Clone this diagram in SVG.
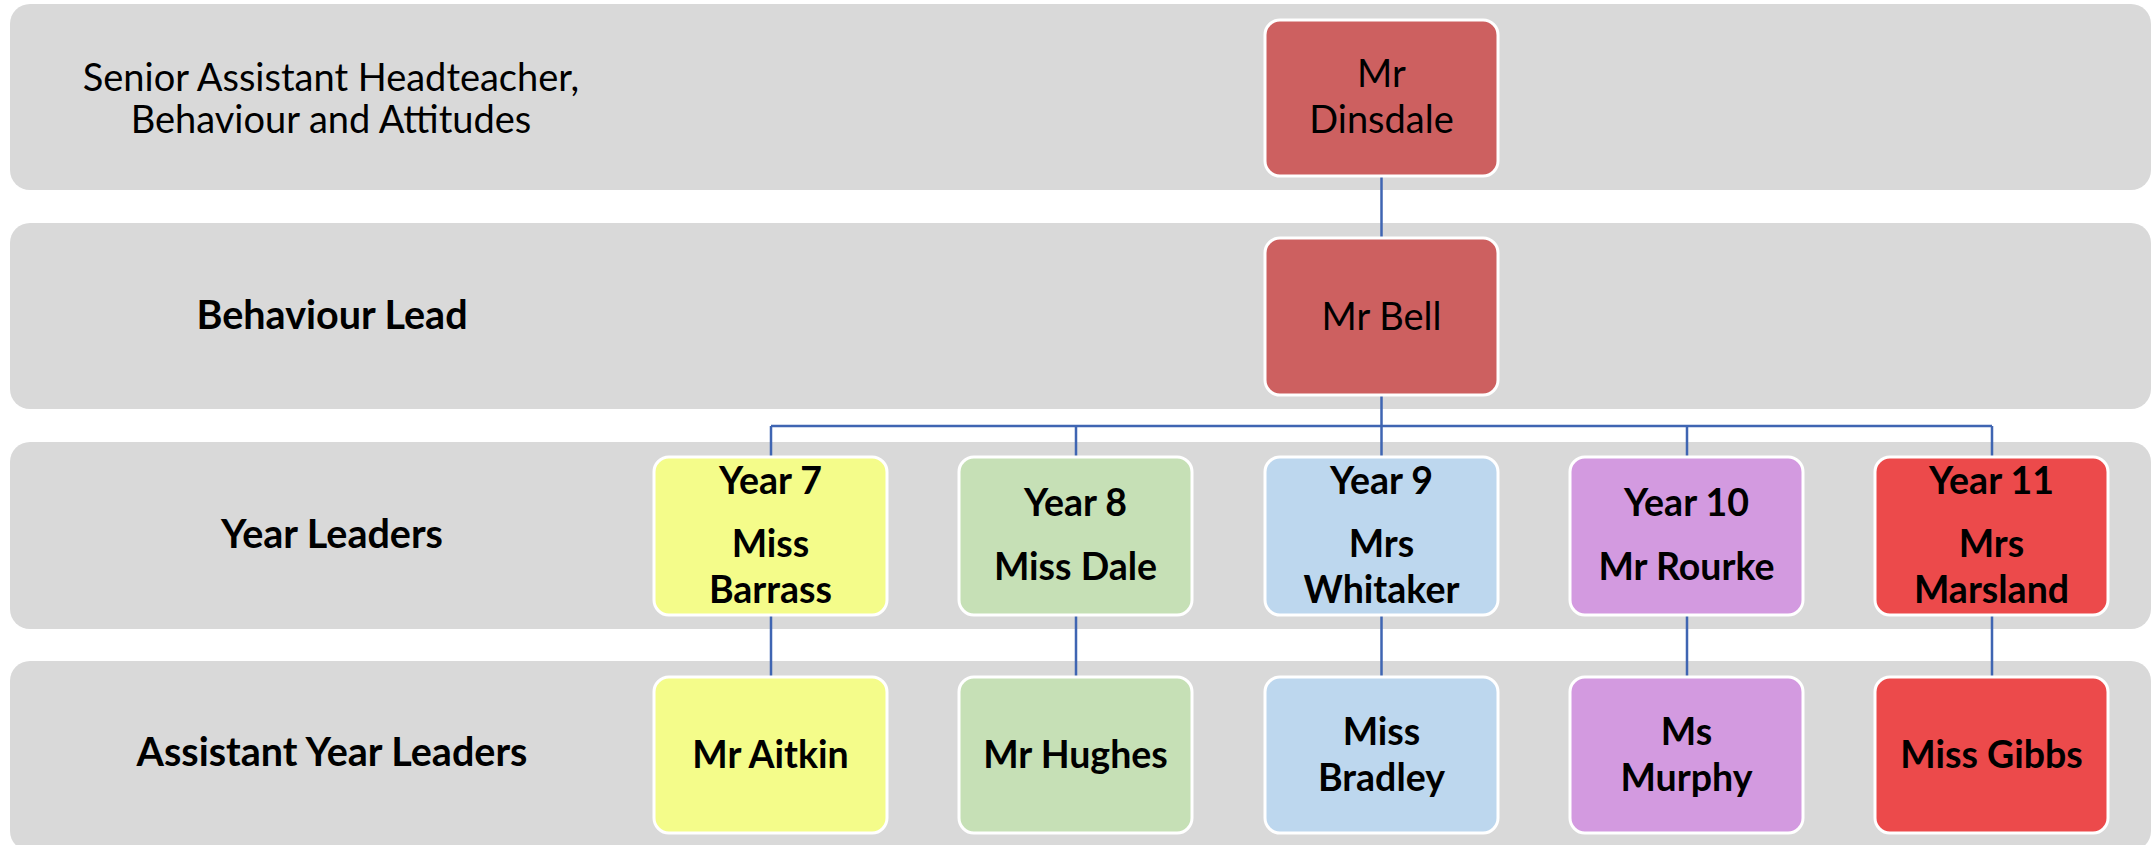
<svg xmlns="http://www.w3.org/2000/svg" width="2155" height="845" viewBox="0 0 2155 845">
<style>
.band{fill:#D9D9D9}
.box{stroke:#FFFFFF;stroke-width:3}
.red{fill:#CD6060}
.yel{fill:#F4FC8A}
.grn{fill:#C6E0B6}
.blu{fill:#BDD7EE}
.pur{fill:#D39AE0}
.rd2{fill:#EC4A4B}
.t{font-family:Lato,"Liberation Sans",sans-serif;font-size:38px;fill:#000;text-anchor:middle}
.b{font-weight:bold;font-size:37.5px}
.lb{font-weight:bold;font-size:39.5px}
.conn{stroke:#3F65B2;stroke-width:2.5;fill:none}
</style>
<rect width="2155" height="845" fill="#FFFFFF"/>
<g id="bands">
<rect class="band" x="10" y="4" width="2141" height="186" rx="20"/>
<rect class="band" x="10" y="223" width="2141" height="186" rx="20"/>
<rect class="band" x="10" y="442" width="2141" height="187" rx="20"/>
<rect class="band" x="10" y="661" width="2141" height="190" rx="20"/>
</g>
<g id="labels">
<text class="t" x="331" y="91">Senior Assistant Headteacher,</text>
<text class="t" x="331" y="133">Behaviour and Attitudes</text>
<text class="t lb" x="332" y="329">Behaviour Lead</text>
<text class="t lb" x="332" y="548">Year Leaders</text>
<text class="t lb" x="332" y="766">Assistant Year Leaders</text>
</g>
<g id="connectors">
<path class="conn" d="M1381.5 176V238"/>
<path class="conn" d="M1381.5 395V426M771 426H1992M771 426V457M1076 426V457M1381.5 426V457M1687 426V457M1992 426V457"/>
<path class="conn" d="M771 615V677M1076 615V677M1381.5 615V677M1687 615V677M1992 615V677"/>
</g>
<g id="dinsdale">
<rect class="box red" x="1265" y="20" width="233" height="156" rx="15"/>
<text class="t" x="1381.5" y="87">Mr</text>
<text class="t" x="1381.5" y="133">Dinsdale</text>
</g>
<g id="bell">
<rect class="box red" x="1265" y="238" width="233" height="157" rx="15"/>
<text class="t" x="1381.5" y="330">Mr Bell</text>
</g>
<g id="year7">
<rect class="box yel" x="654" y="457" width="233" height="158" rx="15"/>
<text class="t b" x="770.5" y="494">Year 7</text>
<text class="t b" x="770.5" y="557">Miss</text>
<text class="t b" x="770.5" y="603">Barrass</text>
</g>
<g id="year8">
<rect class="box grn" x="959" y="457" width="233" height="158" rx="15"/>
<text class="t b" x="1075.5" y="516">Year 8</text>
<text class="t b" x="1075.5" y="580">Miss Dale</text>
</g>
<g id="year9">
<rect class="box blu" x="1265" y="457" width="233" height="158" rx="15"/>
<text class="t b" x="1381.5" y="494">Year 9</text>
<text class="t b" x="1381.5" y="557">Mrs</text>
<text class="t b" x="1381.5" y="603">Whitaker</text>
</g>
<g id="year10">
<rect class="box pur" x="1570" y="457" width="233" height="158" rx="15"/>
<text class="t b" x="1686.5" y="516">Year 10</text>
<text class="t b" x="1686.5" y="580">Mr Rourke</text>
</g>
<g id="year11">
<rect class="box rd2" x="1875" y="457" width="233" height="158" rx="15"/>
<text class="t b" x="1991.5" y="494">Year 11</text>
<text class="t b" x="1991.5" y="557">Mrs</text>
<text class="t b" x="1991.5" y="603">Marsland</text>
</g>
<g id="aitkin">
<rect class="box yel" x="654" y="677" width="233" height="156" rx="15"/>
<text class="t b" x="770.5" y="768">Mr Aitkin</text>
</g>
<g id="hughes">
<rect class="box grn" x="959" y="677" width="233" height="156" rx="15"/>
<text class="t b" x="1075.5" y="768">Mr Hughes</text>
</g>
<g id="bradley">
<rect class="box blu" x="1265" y="677" width="233" height="156" rx="15"/>
<text class="t b" x="1381.5" y="745">Miss</text>
<text class="t b" x="1381.5" y="791">Bradley</text>
</g>
<g id="murphy">
<rect class="box pur" x="1570" y="677" width="233" height="156" rx="15"/>
<text class="t b" x="1686.5" y="745">Ms</text>
<text class="t b" x="1686.5" y="791">Murphy</text>
</g>
<g id="gibbs">
<rect class="box rd2" x="1875" y="677" width="233" height="156" rx="15"/>
<text class="t b" x="1991.5" y="768">Miss Gibbs</text>
</g>
</svg>
